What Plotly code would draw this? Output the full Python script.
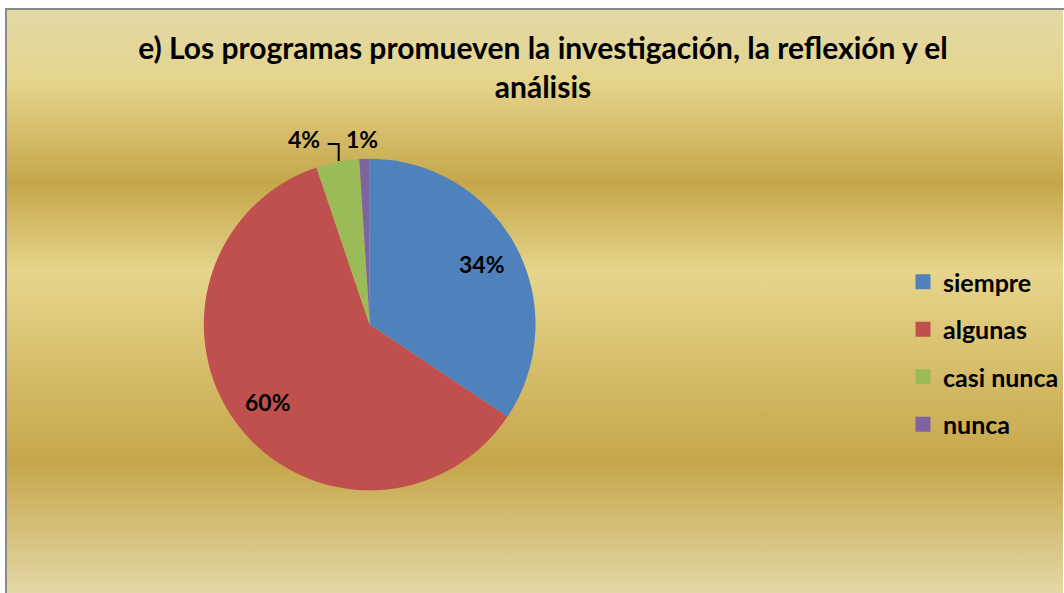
import base64
import math
import plotly.graph_objects as go

# ---- data ----
categories = ["siempre", "algunas", "casi nunca", "nunca"]
values = [34.4, 60.4, 4.2, 1.0]
colors = ["#4F81BD", "#C0504D", "#9BBB59", "#8064A2"]
title_text = "e) Los programas promueven la investigación, la reflexión y el<br>análisis"

W, H = 1064, 593
FONT = "Lato"


def px(x):
    return x / W


def py(y):
    return 1 - y / H


# gold gradient background as svg
svg = (
    '<svg xmlns="http://www.w3.org/2000/svg" width="100" height="100" preserveAspectRatio="none">'
    '<defs><linearGradient id="g" x1="0" y1="0" x2="0" y2="1">'
    '<stop offset="0" stop-color="#e3d9a8"/>'
    '<stop offset="0.125" stop-color="#e4d48b"/>'
    '<stop offset="0.298" stop-color="#c6a64b"/>'
    '<stop offset="0.45" stop-color="#e6d58b"/>'
    '<stop offset="0.777" stop-color="#c6a64b"/>'
    '<stop offset="1" stop-color="#e3d8a6"/>'
    '</linearGradient></defs>'
    '<rect width="100" height="100" fill="url(#g)"/></svg>'
)
bg_src = "data:image/svg+xml;base64," + base64.b64encode(svg.encode()).decode()

cx, cy, r = 370, 324.5, 166
label_font = dict(family=FONT, size=23, color="black", weight="bold")

fig = go.Figure()
fig.add_trace(go.Pie(
    labels=categories,
    values=values,
    sort=False,
    direction="clockwise",
    rotation=0,
    marker=dict(colors=colors, line=dict(width=0)),
    textinfo="none",
    domain=dict(x=[px(cx - r), px(cx + r)], y=[py(cy + r), py(cy - r)]),
    showlegend=False,
    hoverinfo="label+percent",
))

# legend via dummy traces for spacing control
for i, (c, col) in enumerate(zip(categories, colors)):
    fig.add_trace(go.Scatter(
        x=[None], y=[None], mode="markers", name=c,
        marker=dict(symbol="square", size=15, color=col),
        legendgroup=f"g{i}", showlegend=True,
    ))

total = sum(values)
pcts = [f"{round(v / total * 100)}%" for v in values]

annotations = []
# inside labels for the two large slices, placed from the data angles
cum = 0.0
for i, v in enumerate(values):
    mid = (cum + v / 2) / total * 2 * math.pi
    cum += v
    if i < 2:
        lx = cx + 0.77 * r * math.sin(mid)
        ly = cy - 0.77 * r * math.cos(mid)
        annotations.append(dict(x=px(lx), y=py(ly), xref="paper", yref="paper", text=pcts[i],
                                xanchor="center", yanchor="middle",
                                showarrow=False, font=label_font))

# outside labels for small slices
annotations += [
    dict(x=px(304), y=py(139), xref="paper", yref="paper", text=pcts[2],
         xanchor="center", yanchor="middle", showarrow=False, font=label_font),
    dict(x=px(362), y=py(139), xref="paper", yref="paper", text=pcts[3],
         xanchor="center", yanchor="middle", showarrow=False, font=label_font),
]

shapes = [
    dict(type="rect", xref="paper", yref="paper", x0=px(6), x1=px(1080), y0=py(620), y1=py(9),
         line=dict(color="#8a8a8a", width=2), fillcolor="rgba(0,0,0,0)", layer="above"),
    dict(type="path", xref="paper", yref="paper",
         path=f"M {px(328)} {py(144)} L {px(339)} {py(144)} L {px(339)} {py(161)}",
         line=dict(color="black", width=2)),
]

fig.update_layout(
    width=W, height=H,
    margin=dict(l=0, r=0, t=0, b=0),
    paper_bgcolor="white",
    plot_bgcolor="rgba(0,0,0,0)",
    xaxis=dict(visible=False),
    yaxis=dict(visible=False),
    title=dict(text=title_text, x=px(543), xanchor="center", y=py(59), yanchor="top",
               font=dict(family=FONT, size=30, color="black", weight="bold")),
    legend=dict(x=px(904), xanchor="left", y=py(259), yanchor="top",
                font=dict(family=FONT, size=25, color="black", weight="bold"),
                tracegroupgap=12, bgcolor="rgba(0,0,0,0)", itemclick=False, itemdoubleclick=False),
    images=[dict(source=bg_src, xref="paper", yref="paper", x=px(6), y=py(9),
                 sizex=(1064 - 6) / W, sizey=(593 - 9) / H,
                 sizing="stretch", xanchor="left", yanchor="top", layer="below")],
    annotations=annotations,
    shapes=shapes,
)

fig.write_html(
    "out.html",
    config={"displayModeBar": False},
    post_script="document.body.style.margin='0';document.body.style.overflow='hidden';",
)
